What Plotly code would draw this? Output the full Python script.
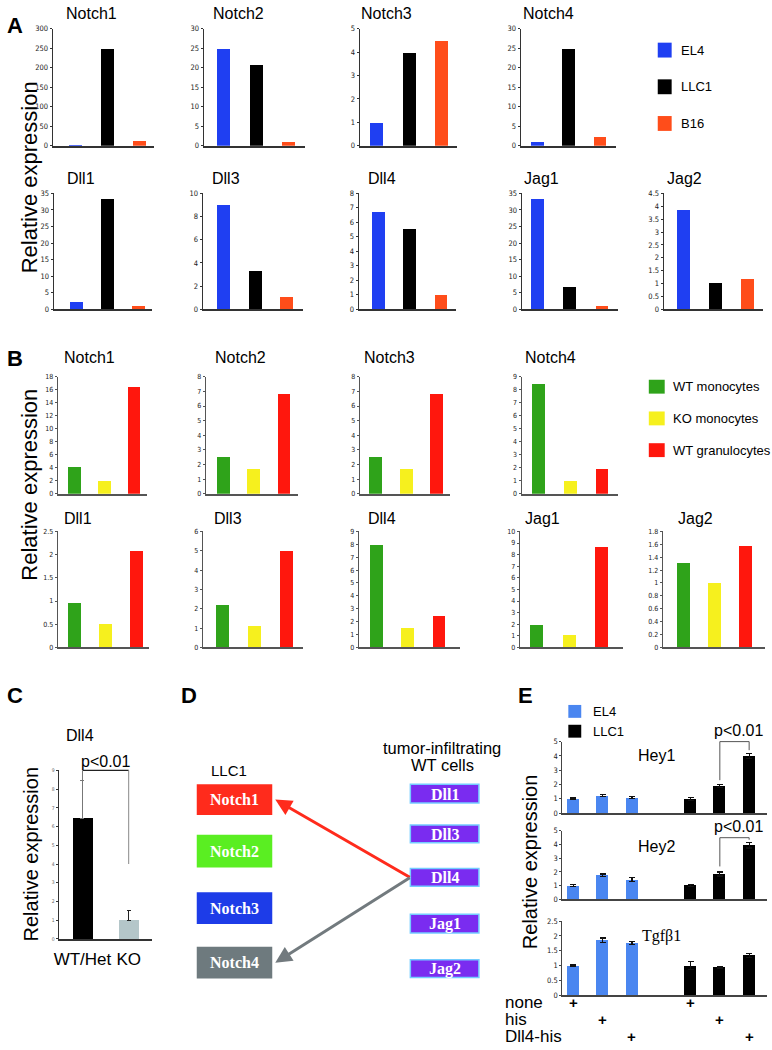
import plotly.graph_objects as go

W, H = 772, 1050
SANS = "Liberation Sans, Arial, sans-serif"
NARROW = "Liberation Sans Narrow, DejaVu Sans Condensed, sans-serif"
SERIF = "Liberation Serif, Times New Roman, serif"

# ---- panel A: tumour cell lines
a_genes = ["Notch1", "Notch2", "Notch3", "Notch4", "Dll1", "Dll3", "Dll4", "Jag1", "Jag2"]
a_lines = ["EL4", "LLC1", "B16"]
a_el4 = [1, 25, 1, 1, 2, 9, 6.7, 33.3, 3.85]
a_llc1 = [250, 20.8, 3.97, 25, 33.3, 3.3, 5.5, 6.5, 1.0]
a_b16 = [14, 1, 4.5, 2.2, 1, 1, 1, 1, 1.15]
a_ymax = [300, 30, 5, 30, 35, 10, 8, 35, 4.5]
a_dtick = [50, 5, 1, 5, 5, 2, 1, 5, 0.5]

# ---- panel B: myeloid cells
b_genes = a_genes
b_cells = ["WT monocytes", "KO monocytes", "WT granulocytes"]
b_wt_mono = [4.2, 2.55, 2.55, 8.5, 0.95, 2.15, 7.9, 1.9, 1.3]
b_ko_mono = [2.0, 1.7, 1.7, 1.0, 0.5, 1.1, 1.5, 1.0, 1.0]
b_wt_gran = [16.4, 6.85, 6.85, 1.9, 2.07, 4.95, 2.4, 8.6, 1.57]
b_ymax = [18, 8, 8, 9, 2.5, 6, 9, 10, 1.8]
b_dtick = [2, 1, 1, 1, 0.5, 1, 1, 1, 0.2]

# ---- panel C
c_gene = "Dll4"
c_groups = ["WT/Het", "KO"]
c_vals = [6.45, 1.0]
c_err = [2.0, 0.5]
c_ymax = 9
c_p_level = 9.0
c_p_drop = [8.45, 4.0]

# ---- panel D
d_cell = "LLC1"
d_receptors = ["Notch1", "Notch2", "Notch3", "Notch4"]
d_ligands = ["Dll1", "Dll3", "Dll4", "Jag1", "Jag2"]
d_links = [("Dll4", "Notch1"), ("Dll4", "Notch4")]

# ---- panel E
e_lines = ["EL4", "LLC1"]
e_genes = ["Hey1", "Hey2", "Tgfβ1"]
e_treat = ["none", "his", "Dll4-his"]
e_el4 = [[1.0, 1.22, 1.1], [0.98, 1.75, 1.42], [1.0, 1.85, 1.75]]
e_el4_err = [[0.05, 0.08, 0.07], [0.07, 0.1, 0.15], [0.02, 0.08, 0.05]]
e_llc1 = [[1.0, 1.9, 4.0], [1.02, 1.85, 3.95], [1.0, 0.95, 1.35]]
e_llc1_err = [[0.1, 0.1, 0.18], [0.08, 0.15, 0.2], [0.13, 0.03, 0.07]]
e_ymax = [5, 5, 2.5]
e_dtick = [1, 1, 0.5]
e_p_level = [5.0, 4.5, None]
e_p_drop = [[2.3, 4.4], [2.4, 4.35], None]

# colours
a_colors = ["#1f3ff2", "#000000", "#ff4d1a"]
b_colors = ["#2fa31a", "#f6f01e", "#ff170d"]
c_colors = ["#000000", "#b4c6c9"]
e_colors = ["#4a86f0", "#000000"]
rec_colors = ["#ff2b1c", "#5aee22", "#1d3ce8", "#6e7a7e"]

# ---- geometry (px): y-axis x, axis end, first bar centre, bar spacing
a_box = [(48, 150, 71, 32), (200, 302, 220, 32.5), (357, 455, 374, 32.5), (519, 615, 535.5, 31.5),
         (49, 148, 71.5, 31.5), (199, 300, 220, 31.5), (356, 454, 375.5, 31.5),
         (520, 617, 535.5, 32.5), (663, 763, 682.5, 32.5)]
a_rowy = [(25, 143)] * 4 + [(191, 308)] * 5
a_title = [(87, 10), (235, 10), (384, 10), (547, 10),
           (76, 176), (222, 176), (379, 176), (540, 176), (684, 176)]
b_box = [(53, 143, 69.5, 30), (202, 295, 219.5, 30.5), (357, 448, 373, 30.5), (520, 617, 536.5, 32),
         (53, 145, 70, 31), (199, 300, 219, 32), (356, 458, 373.5, 31.5),
         (518, 622, 535, 32.5), (662, 765, 683, 31)]
b_rowy = [(376, 494)] * 4 + [(532, 649)] * 5
b_title = [(85, 357), (237, 357), (387, 357), (549, 357),
           (73, 519), (224, 519), (379, 519), (541, 519), (695, 519)]

fig = go.Figure()
lay = {}
annos = []
shapes = []
geo = {}
n_ax = [0]


def new_axes(x0, x1, c0, sp, ytop, yzero, ymax, dtick, tsize, lcolor="#333"):
    n_ax[0] += 1
    s = "" if n_ax[0] == 1 else str(n_ax[0])
    xr = [(x0 - c0) / sp, (x1 - c0) / sp]
    lay["xaxis" + s] = dict(domain=[x0 / W, x1 / W], range=xr, anchor="y" + s,
                            showgrid=False, zeroline=False, showticklabels=False,
                            ticks="", showline=True, linecolor=lcolor, linewidth=1.5,
                            fixedrange=True)
    lay["yaxis" + s] = dict(domain=[1 - yzero / H, 1 - ytop / H], range=[0, ymax],
                            anchor="x" + s, showgrid=False, zeroline=False, showline=True,
                            linecolor=lcolor, linewidth=1.2, ticks="outside", ticklen=2,
                            tickwidth=1, tickcolor=lcolor, tick0=0, dtick=dtick,
                            tickfont=dict(size=tsize, family=NARROW, color="#222"),
                            fixedrange=True)
    geo["x" + s] = (x0, x1, xr, ytop, yzero, ymax)
    return "x" + s, "y" + s


def px(ax, xv, yv):
    x0, x1, xr, ytop, yzero, ymax = geo[ax]
    return (x0 + (xv - xr[0]) / (xr[1] - xr[0]) * (x1 - x0),
            yzero - yv / ymax * (yzero - ytop))


def text(s, x, y, size, family=SANS, color="black", xanchor="center", angle=0, weight="normal", pad=1):
    annos.append(dict(text=s, x=x / W, y=1 - y / H, xref="paper", yref="paper",
                      showarrow=False, xanchor=xanchor, yanchor="middle", textangle=angle,
                      borderpad=pad,
                      font=dict(size=size, family=family, color=color, weight=weight)))


def rect(x0, y0, x1, y1, fill, line=None, lw=0):
    shapes.append(dict(type="rect", xref="paper", yref="paper", x0=x0 / W, x1=x1 / W,
                       y0=1 - y1 / H, y1=1 - y0 / H, fillcolor=fill,
                       line=dict(color=line or fill, width=lw)))


def seg(x0, y0, x1, y1, color="#333", w=1):
    shapes.append(dict(type="line", xref="paper", yref="paper", x0=x0 / W, x1=x1 / W,
                       y0=1 - y0 / H, y1=1 - y1 / H, line=dict(color=color, width=w)))


# ---- panel A
for i, g in enumerate(a_genes):
    x0, x1, c0, sp = a_box[i]
    ytop, yzero = a_rowy[i]
    xa, ya = new_axes(x0, x1, c0, sp, ytop, yzero, a_ymax[i], a_dtick[i], 7.5)
    fig.add_trace(go.Bar(x=[0, 1, 2], y=[a_el4[i], a_llc1[i], a_b16[i]], width=13 / sp,
                         marker=dict(color=a_colors, line=dict(width=0)),
                         xaxis=xa, yaxis=ya, showlegend=False, name=g))
    text(g, a_title[i][0], a_title[i][1], 16)

for j, name in enumerate(a_lines):
    yc = 46.5 + 37 * j
    rect(657, yc - 7.5, 671, yc + 7.5, a_colors[j])
    text(name, 678, yc, 13, xanchor="left")

text("A", 10, 22, 22, weight="bold")
text("Relative expression", 25, 175, 22, angle=-90)

# ---- panel B
for i, g in enumerate(b_genes):
    x0, x1, c0, sp = b_box[i]
    ytop, yzero = b_rowy[i]
    xa, ya = new_axes(x0, x1, c0, sp, ytop, yzero, b_ymax[i], b_dtick[i], 7, "#555")
    fig.add_trace(go.Bar(x=[0, 1, 2], y=[b_wt_mono[i], b_ko_mono[i], b_wt_gran[i]], width=13 / sp,
                         marker=dict(color=b_colors, line=dict(width=0)),
                         xaxis=xa, yaxis=ya, showlegend=False, name=g))
    text(g, b_title[i][0], b_title[i][1], 16)

for j, name in enumerate(b_cells):
    yc = 386 + 32 * j
    rect(648, yc - 7, 664, yc + 7, b_colors[j])
    text(name, 670, yc, 13, xanchor="left")

text("B", 10, 358, 22, weight="bold")
text("Relative expression", 25, 485, 22, angle=-90)

# ---- panel C
xa, ya = new_axes(54, 148, 78, 46.5, 773, 943, c_ymax, 1, 5)
lay[ya.replace("y", "yaxis")]["tickfont"]["color"] = "#666"
lay[xa.replace("x", "xaxis")].update(showticklabels=True, tickvals=[0, 1], ticktext=c_groups,
                                      tickfont=dict(size=17, family=SANS, color="black"),
                                      ticklabelstandoff=4)
for k in range(2):
    fig.add_trace(go.Bar(x=[k], y=[c_vals[k]], width=0.43, marker=dict(color=c_colors[k], line=dict(width=0)),
                         error_y=dict(type="data", array=[c_err[k]], arrayminus=[0], symmetric=False,
                                      color="#777" if k == 0 else "#222", thickness=1, width=2),
                         xaxis=xa, yaxis=ya, showlegend=False, name=c_groups[k]))
lx, ly = px(xa, 0, c_p_level)
rx, _ = px(xa, 1, c_p_level)
seg(lx, ly, rx, ly, "#222", 1.2)
seg(lx, ly, lx, px(xa, 0, c_p_drop[0])[1], "#777", 1)
seg(rx, ly, rx, px(xa, 1, c_p_drop[1])[1], "#888", 1)
text("p<0.01", (lx + rx) / 2, ly - 9, 16)
text(c_gene, 75, 738, 16)
text("C", 10, 697, 22, weight="bold")
text("Relative expression", 26, 857, 20, angle=-90)

# ---- panel D
text("D", 185, 697, 22, weight="bold")
text(d_cell, 225, 773, 15)
text("tumor-infiltrating", 440, 750, 16.5)
text("WT cells", 440, 768, 16.5)
rec_y = [(787, 818), (838, 871), (896, 928), (951, 983)]
lig_y = [(787, 806), (828, 846), (872, 890), (918, 937), (964, 982)]
rec_pos, lig_pos = {}, {}
for r, c, (y0, y1) in zip(d_receptors, rec_colors, rec_y):
    rect(193, y0, 269, y1, c)
    text(r, 231, (y0 + y1) / 2, 16, family=SERIF, color="white", weight="bold")
    rec_pos[r] = (269, (y0 + y1) / 2)
for lg, (y0, y1) in zip(d_ligands, lig_y):
    rect(408, y0, 477, y1, "#7a2cf0", "#74ccff", 1.5)
    text(lg, 442.5, (y0 + y1) / 2 + 0.5, 16, family=SERIF, color="white", weight="bold")
    lig_pos[lg] = (408, (y0 + y1) / 2)
for (lg, r), col in zip(d_links, ["#ff2b1c", "#727a7e"]):
    hx, hy = rec_pos[r]
    tx, ty = lig_pos[lg]
    annos.append(dict(x=(hx + 3) / W, y=1 - hy / H, xref="paper", yref="paper", text="",
                      showarrow=True, ax=tx - hx - 3, ay=ty - hy, axref="pixel", ayref="pixel",
                      arrowhead=2, arrowsize=1.1, arrowwidth=3, arrowcolor=col, standoff=0))

# ---- panel E
e_rowy = [(744, 816), (834, 903), (925, 1000)]
e_title = [(656, 758, SANS), (656, 850, SANS), (661, 940, SERIF)]
e_pos_el4 = [0, 1, 2]
e_pos_llc1 = [4, 5, 6]
e_axes = []
for i, g in enumerate(e_genes):
    xa, ya = new_axes(561, 767, 572, 29.5, e_rowy[i][0], e_rowy[i][1], e_ymax[i], e_dtick[i], 7.5, "#444")
    e_axes.append(xa)
    for pos, vals, errs, col, nm in [(e_pos_el4, e_el4[i], e_el4_err[i], e_colors[0], e_lines[0]),
                                     (e_pos_llc1, e_llc1[i], e_llc1_err[i], e_colors[1], e_lines[1])]:
        fig.add_trace(go.Bar(x=pos, y=vals, width=0.41, marker=dict(color=col, line=dict(width=0)),
                             error_y=dict(type="data", array=errs, color="#111", thickness=1.2, width=3),
                             xaxis=xa, yaxis=ya, showlegend=False, name=nm))
    text(g, e_title[i][0], e_title[i][1], 16, family=e_title[i][2])
    if e_p_level[i] is not None:
        lx, ly = px(xa, e_pos_llc1[1], e_p_level[i])
        rx, _ = px(xa, e_pos_llc1[2], e_p_level[i])
        seg(lx, ly, rx, ly, "#555", 1)
        seg(lx, ly, lx, px(xa, 0, e_p_drop[i][0])[1], "#555", 1)
        seg(rx, ly, rx, px(xa, 0, e_p_drop[i][1])[1], "#555", 1)
        text("p<0.01", (lx + rx) / 2 + 4, ly - 11, 16)

for j, name in enumerate(e_lines):
    yc = 713.5 + 20 * j
    rect(567, yc - 6.5, 580, yc + 6.5, e_colors[j])
    text(name, 590, yc, 13, xanchor="left")

text("E", 524, 697, 22, weight="bold")
text("Relative expression", 528, 865, 20, angle=-90)

treat_y = [1007, 1024, 1041]
for r, t in enumerate(e_treat):
    text(t, 502, treat_y[r], 17, xanchor="left", pad=0)
    for pos in (e_pos_el4[r], e_pos_llc1[r]):
        x, _ = px(e_axes[-1], pos, 0)
        text("+", x, treat_y[r], 15, weight="bold", pad=0)

fig.update_layout(width=W, height=H, margin=dict(l=0, r=0, t=0, b=0),
                  paper_bgcolor="white", plot_bgcolor="white", bargap=0,
                  annotations=annos, shapes=shapes, **lay)
fig.write_html("out.html", config={"displayModeBar": False},
               post_script="document.body.style.margin='0';document.body.style.overflow='hidden';")
